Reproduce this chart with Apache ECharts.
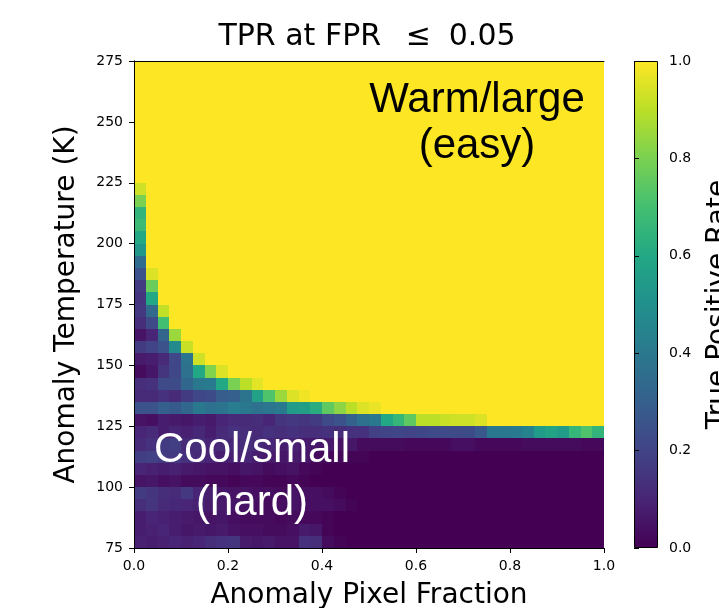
<!DOCTYPE html>
<html>
<head>
<meta charset="utf-8">
<script src="https://cdn.jsdelivr.net/npm/echarts@6/dist/echarts.min.js"></script>
<style>
html, body { margin: 0; padding: 0; background: #fff; }
#chart { width: 719px; height: 608px; }
</style>
</head>
<body>
<div id="chart"></div>
<script>
// bins: 40 pixel-fraction bins of 0.025, 40 temperature bins of 5 K (75..275)
var fracStep = 0.025, nFrac = 40;
var tempStart = 75, tempStep = 5;
var tempMin = 75, tempMax = 275;

// TPR per temperature row, bottom (75-80 K) to top (270-275 K).
// each row lists the cells from fraction 0 upward; cells past the end of a row are saturated (1.0)
var tprRows = [
  [0.09,0.08,0.09,0.10,0.09,0.10,0.13,0.14,0.15,0.07, 0.06,0.07,0.05,0.05,0.14,0.13,0.03,0.01,0,0, 0,0,0,0,0,0,0,0,0,0, 0,0,0,0,0,0,0,0,0,0],
  [0.08,0.09,0.10,0.08,0.06,0.07,0.06,0.07,0.05,0.04, 0.04,0.03,0.03,0.04,0.07,0.06,0.01,0,0,0, 0,0,0,0,0,0,0,0,0,0, 0,0,0,0,0,0,0,0,0,0],
  [0.08,0.10,0.09,0.08,0.07,0.06,0.05,0.06,0.04,0.03, 0.03,0.03,0.02,0.03,0.02,0.02,0.01,0,0,0, 0,0,0,0,0,0,0,0,0,0, 0,0,0,0,0,0,0,0,0,0],
  [0.13,0.15,0.12,0.11,0.10,0.09,0.07,0.07,0.06,0.05, 0.04,0.03,0.04,0.05,0.04,0.04,0.04,0.03,0.01,0, 0,0,0,0,0,0,0,0,0,0, 0,0,0,0,0,0,0,0,0,0],
  [0.17,0.15,0.13,0.12,0.16,0.10,0.08,0.06,0.05,0.05, 0.04,0.04,0.03,0.05,0.04,0.04,0.03,0.01,0,0, 0,0,0,0,0,0,0,0,0,0, 0,0,0,0,0,0,0,0,0,0],
  [0.05,0.06,0.04,0.05,0.03,0.03,0.02,0.02,0.01,0.02, 0.02,0.01,0.01,0.02,0.01,0,0,0,0,0, 0,0,0,0,0,0,0,0,0,0, 0,0,0,0,0,0,0,0,0,0],
  [0.10,0.09,0.08,0.09,0.07,0.06,0.05,0.05,0.04,0.06, 0.05,0.03,0.04,0.05,0.02,0.01,0,0,0,0, 0,0,0,0,0,0,0,0,0,0, 0,0,0,0,0,0,0,0,0,0],
  [0.18,0.19,0.17,0.16,0.14,0.12,0.10,0.08,0.09,0.10, 0.08,0.07,0.06,0.07,0.06,0.03,0.02,0.02,0.01,0.01, 0,0,0,0,0,0,0,0,0,0, 0,0,0,0,0,0,0,0,0,0],
  [0.12,0.14,0.17,0.18,0.12,0.13,0.10,0.12,0.11,0.13, 0.12,0.10,0.08,0.09,0.07,0.06,0.07,0.05,0.06,0.03, 0.03,0.03,0.03,0.02,0.02,0.02,0.02,0.04,0.04,0.02, 0.02,0.02,0.02,0.03,0.03,0.03,0.03,0.03,0.02,0.02],
  [0.10,0.12,0.08,0.10,0.09,0.11,0.08,0.12,0.14,0.13, 0.12,0.14,0.13,0.14,0.13,0.13,0.14,0.13,0.14,0.14, 0.19,0.20,0.21,0.20,0.21,0.22,0.22,0.22,0.23,0.27, 0.40,0.40,0.41,0.44,0.55,0.58,0.55,0.66,0.72,0.65],
  [0.05,0.04,0.08,0.07,0.06,0.08,0.07,0.10,0.12,0.12, 0.13,0.10,0.15,0.16,0.15,0.17,0.22,0.25,0.31,0.37, 0.40,0.60,0.66,0.75,0.90,0.90,0.92,0.93,0.93,0.95],
  [0.25,0.25,0.30,0.28,0.33,0.40,0.37,0.38,0.42,0.40, 0.37,0.39,0.41,0.55,0.56,0.62,0.75,0.83,0.90,0.95, 0.97],
  [0.12,0.12,0.14,0.12,0.17,0.21,0.23,0.29,0.30,0.38, 0.57,0.72,0.85,0.95,0.98],
  [0.13,0.14,0.22,0.23,0.33,0.40,0.41,0.60,0.80,0.90, 0.96],
  [0.03,0.06,0.15,0.21,0.37,0.60,0.81,0.95],
  [0.07,0.08,0.12,0.21,0.38,0.93],
  [0.17,0.20,0.25,0.48,0.92],
  [0.05,0.10,0.32,0.85],
  [0.13,0.22,0.70],
  [0.16,0.34,0.91],
  [0.15,0.60],
  [0.17,0.77],
  [0.25,0.95],
  [0.35],
  [0.53],
  [0.60],
  [0.68],
  [0.65],
  [0.80],
  [0.93],
  [], [], [], [], [], [], [], [], [], []
];

var viridis = ['#440154', '#482576', '#414487', '#35608d', '#2a788e', '#21908c',
               '#22a884', '#43bf71', '#7ad151', '#bbdf27', '#fde725'];

// flatten to [fracStart, tempStart, tpr]
var cells = [];
tprRows.forEach(function (row, r) {
    for (var c = 0; c < nFrac; c++) {
        var v = c < row.length ? row[c] : 1.0;
        cells.push([c * fracStep, tempStart + r * tempStep, v]);
    }
});

var tickFont = { fontFamily: 'DejaVu Sans', fontSize: 14, color: '#000' };
var nameFont = { fontFamily: 'DejaVu Sans', fontSize: 28, color: '#000' };
var blackLine = { show: true, lineStyle: { color: '#000', width: 1 } };
var blackTick = { show: true, length: 5, lineStyle: { color: '#000', width: 1 } };

var chart = echarts.init(document.getElementById('chart'));

var option = {
    animation: false,
    grid: [
        { left: 134, top: 61, width: 470, height: 487, containLabel: false, outerBoundsMode: 'none' },
        { left: 634, top: 61, width: 24, height: 487, containLabel: false, outerBoundsMode: 'none' }
    ],
    xAxis: [
        {
            type: 'value', gridIndex: 0, min: 0, max: 1, interval: 0.2, z: 5,
            axisLine: blackLine, axisTick: blackTick, splitLine: { show: false },
            axisLabel: Object.assign({ margin: 11, formatter: function (v) { return v.toFixed(1); } }, tickFont),
            name: 'Anomaly Pixel Fraction', nameLocation: 'middle', nameGap: 34, nameTextStyle: nameFont
        },
        {
            type: 'value', gridIndex: 0, position: 'top', min: 0, max: 1, z: 5,
            axisLine: blackLine, axisTick: { show: false }, axisLabel: { show: false }, splitLine: { show: false }
        },
        {
            type: 'value', gridIndex: 1, min: 0, max: 1, show: false
        }
    ],
    yAxis: [
        {
            type: 'value', gridIndex: 0, min: tempMin, max: tempMax, interval: 25, z: 5,
            axisLine: blackLine, axisTick: blackTick, splitLine: { show: false },
            axisLabel: Object.assign({ margin: 11 }, tickFont),
            name: 'Anomaly Temperature (K)', nameLocation: 'middle', nameGap: 53, nameTextStyle: nameFont
        },
        {
            type: 'value', gridIndex: 0, position: 'right', min: tempMin, max: tempMax, z: 5,
            axisLine: blackLine, axisTick: { show: false }, axisLabel: { show: false }, splitLine: { show: false }
        },
        {
            type: 'value', gridIndex: 1, position: 'right', min: 0, max: 1, interval: 0.2, z: 5,
            axisLine: { show: false }, axisTick: blackTick, splitLine: { show: false },
            axisLabel: Object.assign({ margin: 11, formatter: function (v) { return v.toFixed(1); } }, tickFont),
            name: 'True Positive Rate', nameLocation: 'middle', nameGap: 47, nameTextStyle: nameFont
        }
    ],
    visualMap: {
        type: 'continuous', show: false, min: 0, max: 1, dimension: 2, seriesIndex: 0,
        inRange: { color: viridis }
    },
    series: [
        {
            type: 'custom',
            xAxisIndex: 0, yAxisIndex: 0,
            encode: { x: 0, y: 1 },
            clip: true,
            data: cells,
            renderItem: function (params, api) {
                var x = api.value(0), y = api.value(1);
                var p0 = api.coord([x, y + tempStep]);
                var p1 = api.coord([x + fracStep, y]);
                // snap to whole pixels so neighbouring cells leave no seams
                var x0 = Math.round(p0[0]), y0 = Math.round(p0[1]);
                var x1 = Math.round(p1[0]), y1 = Math.round(p1[1]);
                return {
                    type: 'rect',
                    shape: { x: x0, y: y0, width: x1 - x0, height: y1 - y0 },
                    style: { fill: api.visual('color') }
                };
            }
        },
        {
            // colour bar
            type: 'custom',
            xAxisIndex: 2, yAxisIndex: 2,
            data: [[0, 0]],
            renderItem: function (params, api) {
                var p0 = api.coord([0, 1]);
                var p1 = api.coord([1, 0]);
                var stops = viridis.map(function (c, i) {
                    return { offset: i / (viridis.length - 1), color: c };
                });
                return {
                    type: 'rect',
                    shape: { x: p0[0] + 0.5, y: p0[1] + 0.5, width: p1[0] - p0[0] - 1, height: p1[1] - p0[1] - 1 },
                    style: {
                        fill: new echarts.graphic.LinearGradient(0, 1, 0, 0, stops),
                        stroke: '#000', lineWidth: 1
                    }
                };
            }
        }
    ],
    graphic: [
        { type: 'text', x: 367, y: 37, z: 10,
          style: { text: 'TPR at FPR \u2002\u2264\u2002\u200a0.05', font: '30px "DejaVu Sans"', fill: '#000',
                   align: 'center', verticalAlign: 'middle', textAlign: 'center', textVerticalAlign: 'middle' } },
        { type: 'text', x: 477, y: 100, z: 10,
          style: { text: 'Warm/large', font: '42px "Liberation Sans"', fill: '#000',
                   align: 'center', verticalAlign: 'middle', textAlign: 'center', textVerticalAlign: 'middle' } },
        { type: 'text', x: 477, y: 146, z: 10,
          style: { text: '(easy)', font: '42px "Liberation Sans"', fill: '#000',
                   align: 'center', verticalAlign: 'middle', textAlign: 'center', textVerticalAlign: 'middle' } },
        { type: 'text', x: 252, y: 450, z: 10,
          style: { text: 'Cool/small', font: '42px "Liberation Sans"', fill: '#fff',
                   align: 'center', verticalAlign: 'middle', textAlign: 'center', textVerticalAlign: 'middle' } },
        { type: 'text', x: 252, y: 503, z: 10,
          style: { text: '(hard)', font: '42px "Liberation Sans"', fill: '#fff',
                   align: 'center', verticalAlign: 'middle', textAlign: 'center', textVerticalAlign: 'middle' } }
    ]
};

chart.setOption(option);
</script>
</body>
</html>
